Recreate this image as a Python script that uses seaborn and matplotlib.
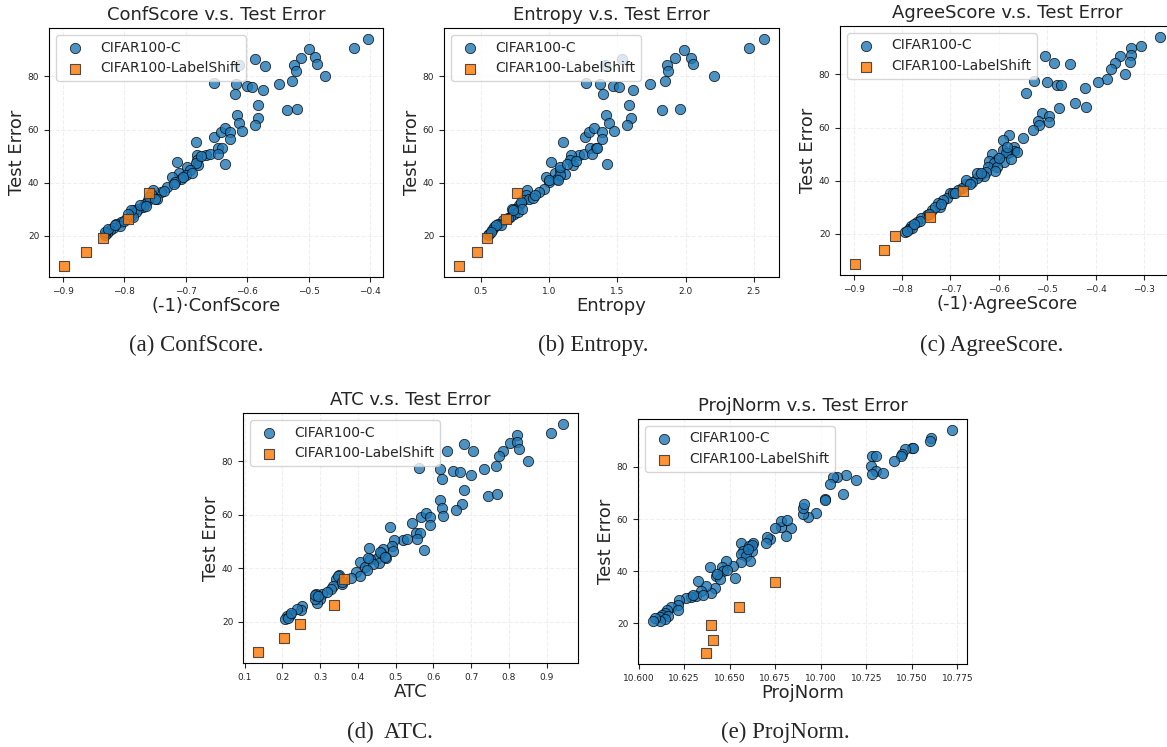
import matplotlib.pyplot as plt
import seaborn as sns

# test error of the five label-shift sets (same in every panel)
labelshift_err = [8.7, 13.7, 19.2, 26.3, 36.0]

# (a) ConfScore
conf_x = [-0.404, -0.427, -0.500, -0.512, -0.490, -0.486, -0.524, -0.521, -0.473, -0.587,
          -0.572, -0.613, -0.655, -0.618, -0.620, -0.601, -0.593, -0.574, -0.549, -0.527,
          -0.536, -0.520, -0.582, -0.582, -0.588, -0.617, -0.614, -0.609, -0.654, -0.643,
          -0.636, -0.629, -0.629, -0.684, -0.668, -0.661, -0.648, -0.642, -0.648, -0.682,
          -0.682, -0.681, -0.636, -0.714, -0.683, -0.699, -0.694, -0.712, -0.700, -0.722,
          -0.708, -0.718, -0.730, -0.740, -0.754, -0.747, -0.756, -0.762, -0.766, -0.770,
          -0.778, -0.785, -0.781, -0.789, -0.786, -0.797, -0.805, -0.813, -0.808, -0.819,
          -0.824, -0.828, -0.831, -0.790, -0.775, -0.760, -0.832, -0.826, -0.815, -0.800,
          -0.720, -0.705, -0.676, -0.690, -0.735, -0.765, -0.795, -0.751]
conf_y = [94.0, 90.7, 90.2, 87.1, 87.3, 84.8, 84.2, 81.9, 80.2, 86.7,
          83.9, 84.2, 77.5, 77.0, 73.3, 76.3, 76.0, 75.0, 77.3, 78.4,
          67.2, 67.7, 69.4, 64.2, 61.7, 65.6, 62.5, 59.6, 57.1, 59.1,
          60.7, 59.1, 56.6, 55.4, 50.5, 50.9, 53.0, 53.2, 50.9, 50.3,
          48.4, 46.5, 46.9, 47.6, 47.4, 45.9, 44.6, 43.7, 42.9, 42.3,
          41.5, 40.2, 38.3, 36.4, 37.3, 33.9, 35.6, 33.3, 32.0, 30.8,
          30.2, 29.8, 28.9, 27.6, 27.0, 26.4, 25.1, 24.5, 23.5, 23.0,
          22.0, 21.0, 20.1, 29.5, 31.5, 34.5, 21.5, 22.5, 24.0, 25.5,
          39.5, 42.0, 50.0, 43.5, 37.0, 31.0, 28.0, 34.0]
conf_ls_x = [-0.898, -0.862, -0.835, -0.795, -0.760]

# (b) Entropy
ent_x = [2.573, 2.463, 1.985, 1.924, 2.037, 2.056, 1.861, 1.868, 2.207, 1.537,
         1.410, 1.271, 1.373, 1.398, 1.471, 1.512, 1.617, 1.737, 1.849, 1.829,
         1.956, 1.588, 1.598, 1.571, 1.417, 1.439, 1.476, 1.263, 1.293, 1.332,
         1.388, 1.388, 1.105, 1.222, 1.259, 1.300, 1.344, 1.315, 1.159, 1.154,
         1.173, 1.422, 1.015, 0.975, 1.042, 1.079, 1.116, 1.059, 1.000, 1.084,
         0.961, 0.924, 0.840, 0.828, 0.813, 0.852, 0.783, 0.759, 0.729, 0.746,
         0.714, 0.660, 0.623, 0.648, 0.599, 0.581, 0.562, 0.552, 0.882, 0.796,
         1.081, 1.003, 1.068, 0.900, 0.770, 0.700, 0.610, 0.575, 0.800, 0.740,
         1.130, 1.200, 1.350]
ent_y = [94.0, 90.7, 90.1, 87.1, 87.1, 84.8, 84.2, 81.9, 80.2, 86.7,
         84.2, 77.5, 77.0, 73.3, 76.3, 76.0, 75.0, 77.3, 78.4, 67.2,
         67.7, 69.4, 64.2, 61.7, 65.6, 62.5, 59.6, 57.1, 59.1, 60.7,
         59.1, 56.6, 55.4, 50.5, 50.9, 53.0, 53.2, 50.9, 50.3, 48.4,
         46.5, 46.9, 47.6, 42.3, 43.6, 44.6, 43.3, 41.5, 40.2, 42.7,
         37.7, 36.4, 37.1, 35.2, 33.3, 33.9, 31.4, 30.2, 30.2, 28.3,
         27.0, 25.8, 24.5, 23.9, 23.3, 22.0, 20.8, 20.1, 34.3, 32.7,
         45.9, 40.9, 40.9, 35.5, 29.0, 26.5, 24.0, 21.5, 30.0, 29.5,
         47.0, 48.0, 53.0]
ent_ls_x = [0.343, 0.470, 0.549, 0.685, 0.766]

# (c) AgreeScore
agree_x = [-0.267, -0.305, -0.326, -0.326, -0.349, -0.328, -0.359, -0.368, -0.340, -0.377,
           -0.395, -0.421, -0.443, -0.419, -0.475, -0.504, -0.486, -0.452, -0.528, -0.501,
           -0.480, -0.471, -0.544, -0.510, -0.497, -0.497, -0.519, -0.516, -0.530, -0.551,
           -0.578, -0.591, -0.569, -0.569, -0.581, -0.592, -0.586, -0.615, -0.604, -0.620,
           -0.589, -0.611, -0.623, -0.604, -0.608, -0.627, -0.639, -0.630, -0.646, -0.656,
           -0.667, -0.677, -0.684, -0.701, -0.708, -0.715, -0.725, -0.722, -0.739, -0.749,
           -0.760, -0.770, -0.782, -0.786, -0.794, -0.780, -0.763, -0.732, -0.694, -0.667,
           -0.646, -0.600, -0.636, -0.660, -0.690, -0.720, -0.745, -0.775, -0.790, -0.583,
           -0.562, -0.575]
agree_y = [94.0, 90.7, 90.1, 87.3, 87.0, 84.7, 84.2, 81.9, 80.1, 78.4,
           77.1, 75.0, 69.3, 67.6, 67.2, 86.8, 84.2, 83.8, 77.4, 77.0,
           76.0, 75.9, 73.2, 65.6, 64.3, 62.2, 62.6, 60.9, 59.0, 56.2,
           57.2, 55.3, 52.8, 51.3, 50.3, 51.5, 50.5, 50.0, 47.7, 47.5,
           47.0, 46.7, 45.2, 45.2, 43.5, 43.4, 42.1, 41.7, 40.8, 39.6,
           38.6, 37.3, 36.4, 35.2, 33.3, 32.7, 31.7, 30.2, 28.9, 27.0,
           25.8, 24.5, 23.0, 21.6, 20.8, 22.0, 24.9, 30.2, 35.2, 40.2,
           42.7, 48.5, 43.0, 38.9, 35.5, 31.0, 27.5, 23.5, 21.0, 52.8,
           50.8, 48.0]
agree_ls_x = [-0.897, -0.837, -0.814, -0.743, -0.675]

# (d) ATC
atc_x = [0.943, 0.912, 0.821, 0.804, 0.822, 0.827, 0.784, 0.774, 0.850, 0.680,
         0.705, 0.637, 0.561, 0.617, 0.622, 0.652, 0.670, 0.700, 0.734, 0.767,
         0.746, 0.768, 0.680, 0.677, 0.661, 0.617, 0.623, 0.626, 0.544, 0.567,
         0.580, 0.592, 0.590, 0.486, 0.520, 0.529, 0.553, 0.566, 0.557, 0.495,
         0.490, 0.493, 0.575, 0.430, 0.467, 0.462, 0.474, 0.449, 0.456, 0.432,
         0.405, 0.418, 0.439, 0.425, 0.394, 0.405, 0.383, 0.350, 0.343, 0.359,
         0.335, 0.330, 0.306, 0.289, 0.299, 0.291, 0.286, 0.253, 0.249, 0.238,
         0.220, 0.211, 0.207, 0.216, 0.224, 0.286, 0.295, 0.317, 0.348, 0.357,
         0.460, 0.471, 0.427]
atc_y = [93.9, 90.8, 90.0, 87.0, 87.3, 84.8, 84.0, 82.0, 80.0, 86.5,
         83.8, 84.0, 77.5, 77.0, 73.5, 76.3, 76.0, 75.0, 77.1, 78.4,
         67.2, 67.9, 69.4, 64.2, 61.9, 65.7, 62.5, 59.5, 57.1, 59.1,
         60.6, 59.1, 56.3, 55.5, 50.5, 51.0, 53.2, 53.1, 50.8, 50.5,
         48.4, 46.6, 46.9, 47.7, 47.3, 45.7, 43.7, 43.4, 41.8, 43.4,
         42.2, 40.3, 41.6, 39.4, 38.4, 37.2, 36.2, 37.5, 35.9, 34.0,
         33.4, 32.2, 30.3, 30.5, 28.6, 27.1, 28.4, 25.9, 24.4, 24.6,
         22.6, 21.9, 21.1, 21.5, 23.1, 29.9, 29.4, 30.9, 36.9, 34.7,
         45.9, 44.1, 43.7]
atc_ls_x = [0.136, 0.205, 0.246, 0.338, 0.364]

# (e) ProjNorm
proj_x = [10.7720, 10.7607, 10.7601, 10.7503, 10.7505, 10.7460, 10.7446, 10.7439, 10.7400, 10.7283,
          10.7305, 10.7274, 10.7301, 10.7283, 10.7341, 10.7191, 10.7140, 10.7089, 10.7067, 10.7052,
          10.7122, 10.7021, 10.7022, 10.6972, 10.6930, 10.6902, 10.6902, 10.6908, 10.6838, 10.6811,
          10.6783, 10.6783, 10.6814, 10.6747, 10.6719, 10.6706, 10.6701, 10.6564, 10.6628, 10.6608,
          10.6620, 10.6571, 10.6564, 10.6590, 10.6613, 10.6564, 10.6518, 10.6478, 10.6459, 10.6463,
          10.6485, 10.6393, 10.6527, 10.6423, 10.6445, 10.6417, 10.6399, 10.6372, 10.6344, 10.6326,
          10.6317, 10.6289, 10.6262, 10.6221, 10.6216, 10.6179, 10.6155, 10.6146, 10.6128, 10.6119,
          10.6161, 10.6143, 10.6119, 10.6088, 10.6079, 10.6353, 10.6298, 10.6625, 10.6600, 10.6430,
          10.6215]
proj_y = [94.1, 91.0, 90.0, 87.3, 87.2, 86.8, 85.0, 84.0, 82.1, 84.0,
          84.1, 80.4, 78.5, 77.2, 77.6, 75.0, 77.0, 76.3, 76.1, 73.4,
          69.6, 67.6, 67.4, 62.5, 60.7, 61.9, 64.4, 65.8, 56.5, 53.6,
          56.9, 59.1, 59.5, 56.5, 52.3, 53.3, 51.0, 51.0, 50.8, 49.5,
          47.6, 47.6, 46.7, 45.7, 44.0, 43.4, 42.1, 43.8, 41.6, 40.2,
          40.6, 41.5, 37.4, 38.0, 37.0, 33.5, 31.6, 34.2, 32.3, 36.1,
          30.6, 30.3, 29.7, 29.1, 27.2, 26.3, 25.2, 24.0, 23.3, 22.4,
          22.9, 21.7, 21.1, 22.0, 21.1, 31.0, 31.0, 50.2, 48.5, 39.0,
          25.0]
proj_ls_x = [10.6370, 10.6408, 10.6395, 10.6549, 10.6750]

panels = [
    (conf_x, conf_y, conf_ls_x, "ConfScore v.s. Test Error", "(-1)\u00b7ConfScore"),
    (ent_x, ent_y, ent_ls_x, "Entropy v.s. Test Error", "Entropy"),
    (agree_x, agree_y, agree_ls_x, "AgreeScore v.s. Test Error", "(-1)\u00b7AgreeScore"),
    (atc_x, atc_y, atc_ls_x, "ATC v.s. Test Error", "ATC"),
    (proj_x, proj_y, proj_ls_x, "ProjNorm v.s. Test Error", "ProjNorm"),
]
captions = ["(a) ConfScore.", "(b) Entropy.", "(c) AgreeScore.", "(d)  ATC.", "(e) ProjNorm."]

sns.set_style("ticks")
plt.rcParams['font.family'] = ['DejaVu Sans']

fig = plt.figure(figsize=(11.67, 7.47), dpi=100)
positions = [
    [0.0420, 0.6292, 0.2862, 0.3333],
    [0.3805, 0.6292, 0.2871, 0.3333],
    [0.7198, 0.6319, 0.2871, 0.3333],
    [0.2082, 0.1124, 0.2871, 0.3347],
    [0.5467, 0.1111, 0.2819, 0.3280],
]
caption_pos = [(0.168, 0.537), (0.508, 0.537), (0.850, 0.537), (0.334, 0.020), (0.673, 0.020)]

for (xs, ys, ls_x, title, xlabel), pos, cap, cpos in zip(panels, positions, captions, caption_pos):
    ax = fig.add_axes(pos)
    sns.scatterplot(x=xs, y=ys, ax=ax, s=55, color='#1f77b4', edgecolor='black',
                    linewidth=0.6, alpha=0.8, marker='o', label='CIFAR100-C')
    sns.scatterplot(x=ls_x, y=labelshift_err, ax=ax, s=50, color='#ff7f0e', edgecolor='#333333',
                    linewidth=0.8, alpha=0.85, marker='s', label='CIFAR100-LabelShift')
    ax.set_title(title, fontsize=13)
    ax.set_xlabel(xlabel, fontsize=13, labelpad=1)
    ax.set_ylabel('Test Error', fontsize=13, labelpad=1.5)
    ax.tick_params(labelsize=6.5)
    ax.ticklabel_format(axis='x', useOffset=False)
    ax.grid(True, linestyle='--', alpha=0.3)
    for sp in ax.spines.values():
        sp.set_color('black')
    ax.legend(loc='upper left', fontsize=10)
    fig.text(cpos[0], cpos[1], cap, ha='center', va='center', fontsize=16.5,
             family=['Liberation Serif', 'DejaVu Serif'])

fig.savefig('out.png', dpi=100)
